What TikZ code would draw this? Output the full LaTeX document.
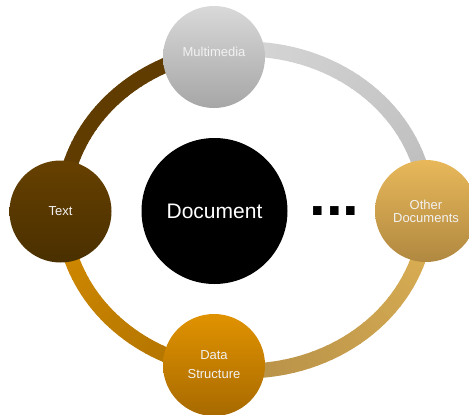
\documentclass[tikz,border=0pt]{standalone}
\usepackage{fontspec}
\setmainfont{Liberation Sans}
\definecolor{gR}{HTML}{BBBBBB}
\definecolor{gT}{HTML}{D9D9D9}
\definecolor{brn}{HTML}{603C00}
\definecolor{orT}{HTML}{D68C00}
\definecolor{orB}{HTML}{AD7100}
\definecolor{gdB}{HTML}{B38D48}
\definecolor{gdT}{HTML}{DEB254}
\definecolor{mmT}{HTML}{D9D9D9}
\definecolor{mmB}{HTML}{A6A6A6}
\definecolor{txT}{HTML}{664000}
\definecolor{txB}{HTML}{4A3000}
\definecolor{odT}{HTML}{E8B85A}
\definecolor{odB}{HTML}{B08840}
\definecolor{dsT}{HTML}{E09200}
\definecolor{dsB}{HTML}{A86A00}
\definecolor{lbl}{HTML}{F2F2F2}
\def\rcx{245}\def\rcy{210}\def\rrx{182}\def\rry{161}
\newcommand\RingPart[4]{%
  \pgfmathsetmacro\rstep{(#2-#1)/40}%
  \foreach \k in {0,...,39}{%
    \pgfmathsetmacro\aa{#1+\k*\rstep}%
    \pgfmathsetmacro\ab{\aa+0.5*\rstep}%
    \pgfmathsetmacro\ac{\aa+1.15*\rstep}%
    \pgfmathtruncatemacro\pp{100*(\k+0.5)/40}%
    \draw[ringseg,draw=#4!\pp!#3] ({\rcx+\rrx*cos(\aa)},{\rcy-\rry*sin(\aa)}) -- ({\rcx+\rrx*cos(\ab)},{\rcy-\rry*sin(\ab)}) -- ({\rcx+\rrx*cos(\ac)},{\rcy-\rry*sin(\ac)});
  }}
\begin{document}
\begin{tikzpicture}[x=1pt,y=-1pt,
  bubble/.style={circle,inner sep=0pt,minimum size=102pt,text=lbl,font=\fontsize{13}{13}\selectfont,align=center},
  ringseg/.style={line width=15pt,line cap=butt,line join=round}]
\useasboundingbox (0,0) rectangle (469,415);
\RingPart{0}{100}{gR}{gT}
\RingPart{100}{180}{brn}{brn}
\RingPart{180}{260}{orT}{orB}
\RingPart{260}{360}{gdB}{gdT}
\node[bubble, top color=mmT, bottom color=mmB] (mm) at (214,57) {\raisebox{10pt}{Multimedia}};
\node[bubble, top color=txT, bottom color=txB] (txt) at (60.5,211.5) {Text};
\node[bubble, top color=odT, bottom color=odB] (od) at (426,211) {Other\\Documents};
\node[bubble, top color=dsT, bottom color=dsB, font=\fontsize{13}{19}\selectfont] (ds) at (214,365) {Data\\Structure};
\node[circle, fill=black, minimum size=146pt, inner sep=0pt, text=white, font=\fontsize{21}{25}\selectfont] (doc) at (214.5,211) {Document};
\node[anchor=base west, inner sep=0pt, font=\fontsize{60}{60}\selectfont\bfseries] (dots) at (309.2,215) {...};
\end{tikzpicture}
\end{document}
